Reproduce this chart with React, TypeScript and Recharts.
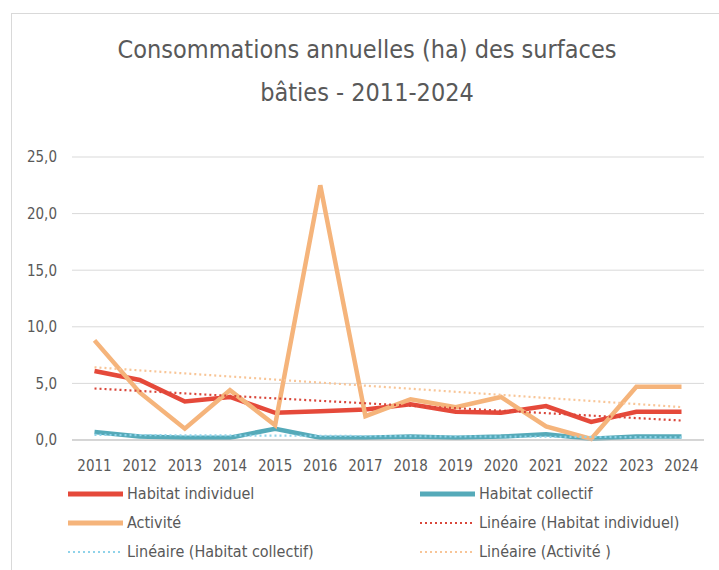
import { CartesianGrid, Line, LineChart, XAxis, YAxis } from "recharts";

const years = ["2011", "2012", "2013", "2014", "2015", "2016", "2017", "2018", "2019", "2020", "2021", "2022", "2023", "2024"];
const habitatIndividuel = [6.1, 5.3, 3.4, 3.8, 2.4, 2.55, 2.7, 3.15, 2.5, 2.4, 3.0, 1.6, 2.5, 2.5];
const habitatCollectif = [0.7, 0.3, 0.2, 0.2, 1.0, 0.2, 0.2, 0.3, 0.2, 0.3, 0.5, 0.1, 0.3, 0.3];
const activite = [8.8, 4.2, 1.0, 4.4, 1.3, 22.5, 2.1, 3.6, 2.9, 3.8, 1.2, 0.1, 4.7, 4.7];
const yTicks = [0, 5, 10, 15, 20, 25];

const FONT = "'Liberation Sans Narrow', 'DejaVu Sans Condensed', 'Roboto', sans-serif";
const TEXT = "#595959";

// least-squares trend, like Excel's "Linéaire" trendline
function trend(values: number[]) {
	const n = values.length;
	const mx = (n - 1) / 2;
	const my = values.reduce((a, b) => a + b, 0) / n;
	let sxy = 0;
	let sxx = 0;
	values.forEach((v, i) => {
		sxy += (i - mx) * (v - my);
		sxx += (i - mx) * (i - mx);
	});
	const slope = sxy / sxx;
	return values.map((_, i) => my + slope * (i - mx));
}

const tInd = trend(habitatIndividuel);
const tCol = trend(habitatCollectif);
const tAct = trend(activite);

const data = years.map((year, i) => ({
	year,
	ind: habitatIndividuel[i],
	col: habitatCollectif[i],
	act: activite[i],
	tInd: tInd[i],
	tCol: tCol[i],
	tAct: tAct[i],
}));

const series = [
	{ key: "ind", name: "Habitat individuel", color: "#E5493A", dotted: false },
	{ key: "col", name: "Habitat collectif", color: "#55AAB9", dotted: false },
	{ key: "act", name: "Activité", color: "#F5B47B", dotted: false },
	{ key: "tInd", name: "Linéaire (Habitat individuel)", color: "#D9463A", dotted: true },
	{ key: "tCol", name: "Linéaire (Habitat collectif)", color: "#8FD3EA", dotted: true },
	{ key: "tAct", name: "Linéaire (Activité )", color: "#F8C597", dotted: true },
];

const fmt = (v: number) => v.toFixed(1).replace(".", ",");

function LegendBox() {
	return (
		<div
			style={{
				position: "absolute",
				left: 68,
				top: 479,
				width: 620,
				display: "grid",
				gridTemplateColumns: "352px 268px",
				fontFamily: FONT,
				fontSize: 16,
				color: TEXT,
			}}
		>
			{series.map((s) => (
				<div key={s.key} style={{ display: "flex", alignItems: "center", height: 29 }}>
					<svg width={55} height={8} style={{ marginRight: 4 }}>
						<line
							x1={0}
							y1={4}
							x2={55}
							y2={4}
							stroke={s.color}
							strokeWidth={s.dotted ? 2 : 5}
							strokeDasharray={s.dotted ? "2 3" : undefined}
						/>
					</svg>
					<span>{s.name}</span>
				</div>
			))}
		</div>
	);
}

export default function App() {
	return (
		<div style={{ position: "absolute", left: 0, top: 0, width: 719, height: 570, background: "#fff", overflow: "hidden" }}>
			<div
				style={{
					position: "absolute",
					left: 11,
					top: 13,
					width: 740,
					height: 600,
					borderTop: "1.5px solid #d9d9d9",
					borderLeft: "1.5px solid #d9d9d9",
				}}
			/>
			<div
				style={{
					position: "absolute",
					left: 11,
					top: 28,
					width: 712,
					textAlign: "center",
					fontFamily: FONT,
					fontSize: 25,
					lineHeight: "43px",
					color: TEXT,
				}}
			>
				Consommations annuelles (ha) des surfaces
				<br />
				bâties - 2011-2024
			</div>
			<div style={{ position: "absolute", left: 0, top: 0 }}>
				<LineChart width={719} height={570} data={data} margin={{ top: 157, right: 15, left: 12, bottom: 100 }}>
					<CartesianGrid vertical={false} stroke="#d9d9d9" />
					<XAxis
						dataKey="year"
						stroke="#bfbfbf"
						tickLine={false}
						tickMargin={14}
						padding={{ left: 22.5, right: 22.5 }}
						interval={0}
						tick={{ fill: TEXT, fontSize: 15, fontFamily: FONT }}
					/>
					<YAxis
						width={60}
						domain={[0, 25]}
						ticks={yTicks}
						axisLine={false}
						tickLine={false}
						tickMargin={9}
						tickFormatter={fmt}
						tick={{ fill: TEXT, fontSize: 15, fontFamily: FONT }}
					/>
					{series.map((s) => (
						<Line
							key={s.key}
							dataKey={s.key}
							name={s.name}
							type="linear"
							stroke={s.color}
							strokeWidth={s.dotted ? 2.2 : 4.5}
							strokeDasharray={s.dotted ? "2 3" : undefined}
							dot={false}
							activeDot={false}
							isAnimationActive={false}
						/>
					))}
				</LineChart>
			</div>
			<LegendBox />
		</div>
	);
}
